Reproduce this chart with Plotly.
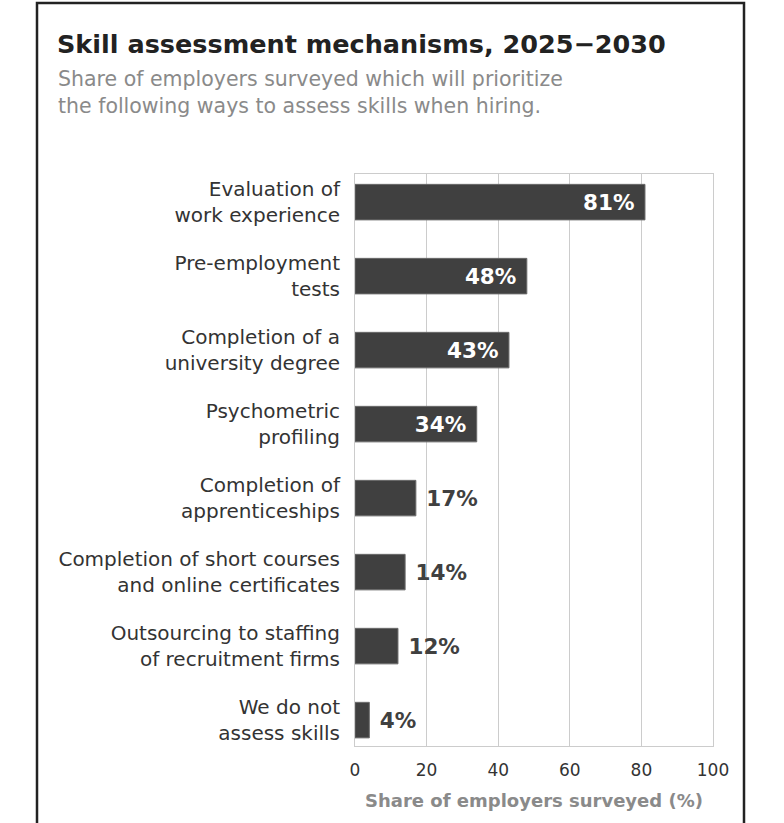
import plotly.graph_objects as go

# Data
categories = [
    "Evaluation of<br>work experience",
    "Pre-employment<br>tests",
    "Completion of a<br>university degree",
    "Psychometric<br>profiling",
    "Completion of<br>apprenticeships",
    "Completion of short courses<br>and online certificates",
    "Outsourcing to staffing<br>of recruitment firms",
    "We do not<br>assess skills",
]
shares = [81, 48, 43, 34, 17, 14, 12, 4]
x_ticks = [0, 20, 40, 60, 80, 100]

W, H = 784, 823
ML, MT = 355, 174
pw, ph = 358, 572
MR, MB = W - ML - pw, H - MT - ph

FONT = "DejaVu Sans"
BAR = "#404040"
GRID = "#cccccc"

# big bars get the label inside, short ones outside
positions = ["inside" if v >= 30 else "outside" for v in shares]
labels = [f"{v}%\u00a0" if p == "inside" else f"\u00a0{v}%"
          for v, p in zip(shares, positions)]

fig = go.Figure(go.Bar(
    x=shares,
    y=categories,
    orientation="h",
    width=0.48,
    marker=dict(color=BAR, line=dict(color="#6a6a6a", width=1)),
    text=labels,
    textposition=positions,
    insidetextanchor="end",
    insidetextfont=dict(family=FONT, size=21.5, color="white", weight="bold"),
    outsidetextfont=dict(family=FONT, size=21.5, color=BAR, weight="bold"),
    cliponaxis=False,
    hoverinfo="skip",
))


def px_x(p):
    # pixel -> paper x
    return (p - ML) / pw


def px_y(p):
    # pixel -> paper y
    return (MT + ph - p) / ph


fig.update_layout(
    width=W, height=H,
    margin=dict(l=ML, r=MR, t=MT, b=MB),
    paper_bgcolor="white",
    plot_bgcolor="white",
    showlegend=False,
    font=dict(family=FONT, color="#333333"),
    title=dict(
        text="<b>Skill assessment mechanisms, 2025\u22122030</b>",
        font=dict(family=FONT, size=25.5, color="#222222"),
        xref="container", x=57 / W, xanchor="left",
        yref="container", y=1 - 44 / H, yanchor="middle",
    ),
    annotations=[dict(
        text="Share of employers surveyed which will prioritize<br>"
             "the following ways to assess skills when hiring.",
        xref="paper", yref="paper",
        x=px_x(56), y=px_y(65), xanchor="left", yanchor="top",
        align="left", showarrow=False,
        font=dict(family=FONT, size=20.5, color="#8a8a8a"),
    )],
    shapes=[dict(
        type="rect", xref="paper", yref="paper",
        x0=px_x(37), x1=px_x(744), y0=px_y(840), y1=px_y(3),
        line=dict(color="#222222", width=2.5), fillcolor="rgba(0,0,0,0)",
        layer="above",
    )],
)

fig.update_xaxes(
    range=[0, 100],
    tickvals=x_ticks,
    tickfont=dict(family=FONT, size=17, color="#333333"),
    showgrid=True, gridcolor=GRID, gridwidth=1,
    showline=True, linecolor=GRID, linewidth=1, mirror=True,
    zeroline=False,
    ticks="", ticklabelstandoff=9,
    title=dict(text="<b>Share of employers surveyed (%)</b>",
               font=dict(family=FONT, size=18, color="#8a8a8a"),
               standoff=14),
)

fig.update_yaxes(
    categoryorder="array", categoryarray=categories,
    range=[7.35, -0.38],
    tickfont=dict(family=FONT, size=20, color="#333333"),
    showgrid=False,
    showline=True, linecolor=GRID, linewidth=1, mirror=True,
    ticks="", ticklabelstandoff=10,
)

# drop the default 8px body margin so the figure fills the window exactly
fig.write_html("out.html", config={"displayModeBar": False},
               post_script="document.body.style.margin='0';")
